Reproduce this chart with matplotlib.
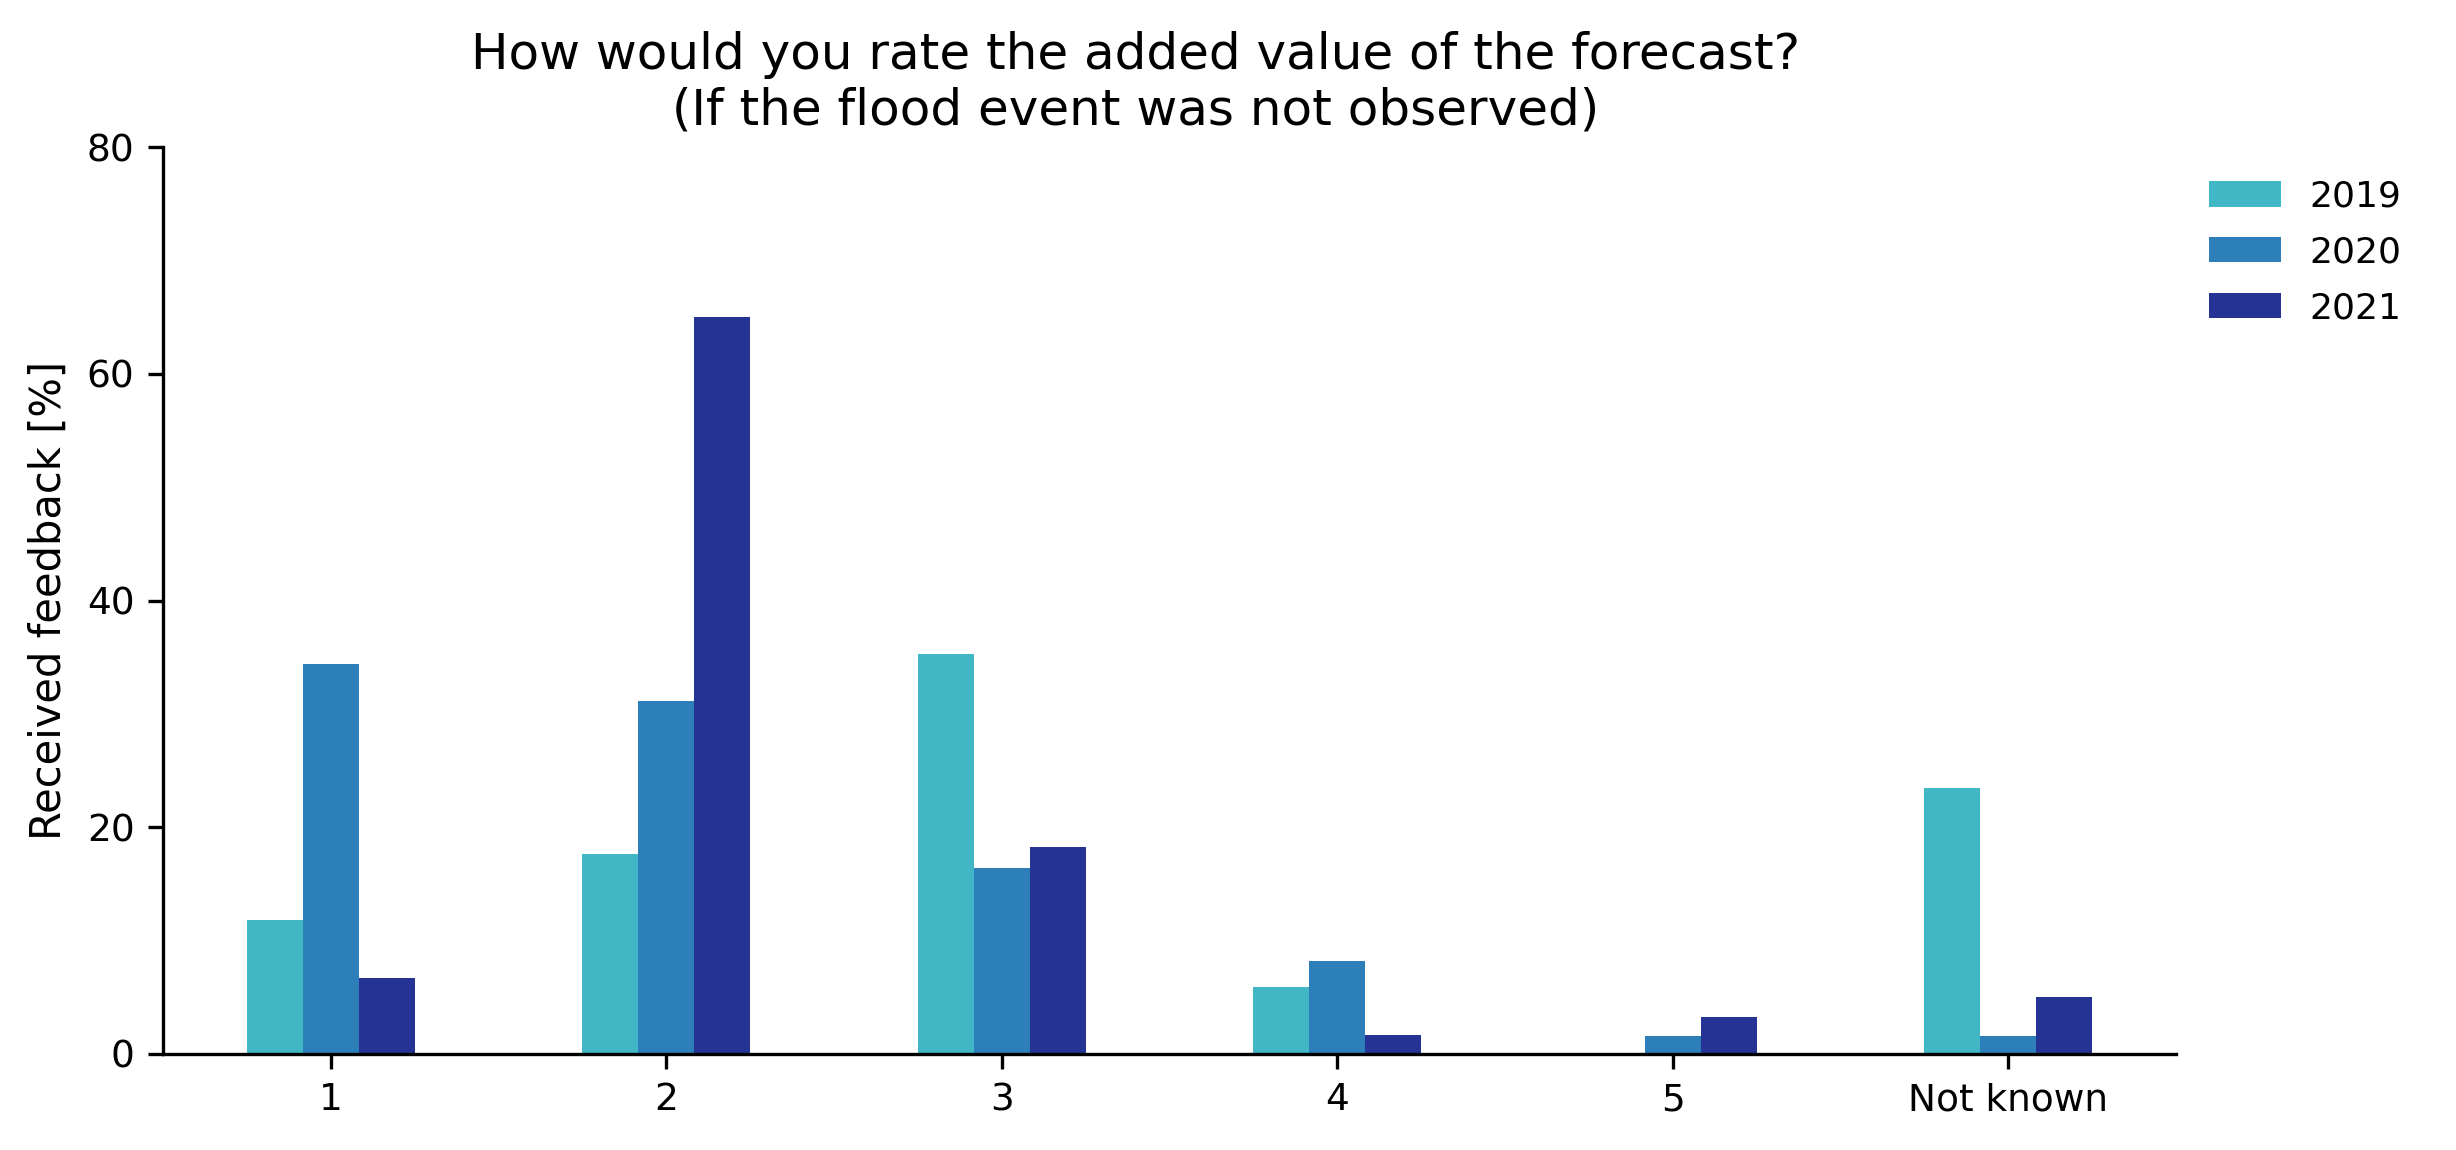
import matplotlib
matplotlib.use("Agg")
import matplotlib.pyplot as plt
import numpy as np
import pandas as pd

categories = ["1", "2", "3", "4", "5", "Not known"]
years = ["2019", "2020", "2021"]
v2019 = [11.8, 17.6, 35.3, 5.9, 0.0, 23.5]
v2020 = [34.4, 31.1, 16.4, 8.2, 1.6, 1.6]
v2021 = [6.7, 65.0, 18.3, 1.7, 3.3, 5.0]
colors = ["#41b6c4", "#2c7fb8", "#253494"]

df = pd.DataFrame({"2019": v2019, "2020": v2020, "2021": v2021}, index=categories)

fig = plt.figure(figsize=(12.28, 5.75), dpi=200)
ax = fig.add_axes([0.0664, 0.0835, 0.8196, 0.7885])
df.plot.bar(ax=ax, color=colors, width=0.5, rot=0)
ax.set_ylim(0, 80)
ax.set_yticks([0, 20, 40, 60, 80])
ax.set_xlim(-0.5, 5.5)
ax.spines["top"].set_visible(False)
ax.spines["right"].set_visible(False)
for s in ("left", "bottom"):
    ax.spines[s].set_linewidth(1.2)
ax.tick_params(labelsize=13.5, length=5.25, width=1.2, pad=5)
ax.set_ylabel("Received feedback [%]", fontsize=15, labelpad=6)
ax.set_title("How would you rate the added value of the forecast?\n(If the flood event was not observed)",
             fontsize=18, x=0.483, pad=8)
ax.legend(loc="upper left", bbox_to_anchor=(1.0, 1.0), frameon=False, fontsize=13,
          labelspacing=0.6)
fig.savefig("out.png", dpi=200)
